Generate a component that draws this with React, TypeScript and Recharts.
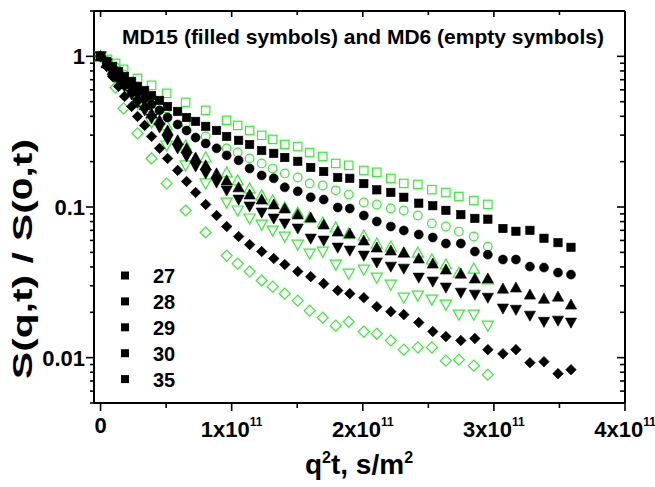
import React from 'react';
import { ScatterChart, Scatter, XAxis, YAxis, Legend, Customized } from 'recharts';

// x values are in units of 1e10 (q^2 t, s/m^2)
const X_UNIT = 1e10;

const md15X = [0, 0.46, 0.92, 1.37, 1.83, 2.37, 2.82, 3.36, 3.89, 4.5, 5.11, 5.88, 6.56, 7.25, 8.02, 8.85, 9.62, 10.53, 11.37, 12.29, 13.21, 14.05, 15.04, 16.03, 17.02, 18.09, 19.01, 20.08, 21.07, 22.14, 23.13, 24.27, 25.34, 26.34, 27.48, 28.55, 29.54, 30.69, 31.68, 32.75, 33.82, 34.89, 35.88];
const md6X = [0, 0.53, 1.15, 1.76, 2.82, 3.89, 5.04, 6.49, 8.02, 9.62, 10.46, 11.37, 12.29, 13.13, 14.05, 15.04, 15.95, 16.95, 17.94, 18.93, 20.08, 21.07, 22.14, 23.13, 24.2, 25.27, 26.34, 27.33, 28.47, 29.54];

// MD15 (filled symbols)
const md15Squares = [1, 0.926, 0.858, 0.795, 0.736, 0.682, 0.632, 0.594, 0.55, 0.51, 0.465, 0.431, 0.393, 0.37, 0.343, 0.322, 0.294, 0.277, 0.26, 0.237, 0.227, 0.213, 0.201, 0.183, 0.172, 0.157, 0.155, 0.143, 0.13, 0.125, 0.116, 0.106, 0.102, 0.095, 0.089, 0.084, 0.083, 0.072, 0.069, 0.07, 0.062, 0.058, 0.054];
const md15Circles = [1, 0.912, 0.832, 0.759, 0.693, 0.632, 0.576, 0.526, 0.48, 0.438, 0.393, 0.353, 0.322, 0.289, 0.264, 0.245, 0.22, 0.204, 0.18, 0.162, 0.155, 0.135, 0.127, 0.116, 0.112, 0.0992, 0.0977, 0.0878, 0.0801, 0.0742, 0.0698, 0.0657, 0.0627, 0.0572, 0.0572, 0.0506, 0.0483, 0.0448, 0.0448, 0.0402, 0.0396, 0.0367, 0.0356];
const md15TriUp = [1, 0.899, 0.807, 0.725, 0.652, 0.585, 0.526, 0.473, 0.418, 0.376, 0.322, 0.277, 0.245, 0.213, 0.189, 0.167, 0.15, 0.135, 0.121, 0.112, 0.104, 0.0977, 0.0892, 0.0851, 0.0765, 0.0687, 0.0666, 0.0599, 0.0538, 0.0514, 0.0498, 0.0455, 0.0421, 0.0384, 0.0361, 0.0335, 0.0335, 0.0287, 0.0292, 0.0262, 0.0246, 0.0254, 0.0225];
const md15TriDown = [1, 0.899, 0.795, 0.703, 0.632, 0.559, 0.495, 0.438, 0.387, 0.337, 0.281, 0.245, 0.2165, 0.1858, 0.167, 0.1455, 0.1287, 0.112, 0.1008, 0.0919, 0.0839, 0.0777, 0.072, 0.0617, 0.0599, 0.0538, 0.0514, 0.0476, 0.0428, 0.0402, 0.039, 0.034, 0.032, 0.0292, 0.027, 0.0262, 0.025, 0.0212, 0.0208, 0.019, 0.0173, 0.0176, 0.0171];
const md15Diamonds = [1, 0.858, 0.736, 0.632, 0.542, 0.465, 0.399, 0.348, 0.294, 0.245, 0.21, 0.175, 0.1477, 0.1248, 0.1039, 0.0878, 0.0742, 0.0637, 0.0563, 0.0506, 0.0455, 0.0415, 0.0373, 0.0345, 0.031, 0.0279, 0.0266, 0.025, 0.0218, 0.0202, 0.0193, 0.0171, 0.0149, 0.0138, 0.013, 0.0134, 0.0113, 0.0106, 0.0113, 0.00926, 0.0094, 0.00783, 0.00832];

// MD6 (empty symbols)
const md6Squares = [1, 0.955, 0.899, 0.82, 0.714, 0.642, 0.568, 0.495, 0.438, 0.376, 0.348, 0.322, 0.299, 0.281, 0.26, 0.252, 0.23, 0.2165, 0.1945, 0.189, 0.1748, 0.17, 0.1547, 0.1434, 0.1412, 0.1304, 0.1248, 0.1174, 0.1104, 0.104];
const md6Circles = [1, 0.926, 0.845, 0.759, 0.632, 0.542, 0.451, 0.359, 0.294, 0.245, 0.23, 0.21, 0.1945, 0.18, 0.167, 0.157, 0.1434, 0.1389, 0.129, 0.121, 0.1071, 0.1039, 0.0977, 0.0948, 0.0878, 0.0777, 0.0742, 0.0687, 0.0637, 0.0546];
const md6TriUp = [1, 0.912, 0.82, 0.725, 0.576, 0.458, 0.348, 0.256, 0.213, 0.1695, 0.15, 0.1327, 0.1192, 0.1104, 0.0992, 0.0919, 0.0851, 0.0788, 0.0731, 0.0666, 0.0646, 0.0572, 0.0546, 0.0498, 0.0498, 0.0448, 0.0415, 0.0367, 0.039, 0.033];
const md6TriDown = [1, 0.885, 0.771, 0.652, 0.487, 0.364, 0.256, 0.189, 0.1434, 0.1071, 0.0948, 0.0839, 0.0765, 0.0698, 0.0637, 0.0563, 0.0491, 0.0506, 0.0415, 0.0361, 0.0384, 0.034, 0.0305, 0.025, 0.0258, 0.0243, 0.0225, 0.0193, 0.0193, 0.0163];
const md6Diamonds = [1, 0.858, 0.622, 0.451, 0.308, 0.21, 0.1434, 0.0948, 0.0677, 0.0476, 0.0421, 0.0373, 0.0325, 0.0296, 0.0266, 0.0239, 0.0205, 0.0184, 0.0163, 0.0173, 0.0149, 0.0144, 0.013, 0.0113, 0.0117, 0.0117, 0.00955, 0.0097, 0.00885, 0.00771];

const xTicks = [0, 5e10, 1e11, 1.5e11, 2e11, 2.5e11, 3e11, 3.5e11, 4e11];
const xMajor = [0, 1e11, 2e11, 3e11, 4e11];
const yTicks = [0.005, 0.006, 0.007, 0.008, 0.009, 0.01, 0.02, 0.03, 0.04, 0.05, 0.06, 0.07, 0.08, 0.09, 0.1, 0.2, 0.3, 0.4, 0.5, 0.6, 0.7, 0.8, 0.9, 1, 2];
const yMajor = [0.01, 0.1, 1];
const yMajorLabels = ['0.01', '0.1', '1'];
const legendLabels = ['27', '28', '29', '30', '35'];
const titleText = 'MD15 (filled symbols) and MD6 (empty symbols)';

const FONT = '"Liberation Sans", Arial, Helvetica, sans-serif';
const BLACK = '#000000';
const GREEN = '#33ee33';

const toPoints = (xs: number[], ys: number[]) => ys.map((y, i) => ({ x: xs[i] * X_UNIT, y }));

type Kind = 'square' | 'circle' | 'up' | 'down' | 'diamond';

const makeShape = (kind: Kind, filled: boolean) => (props: any) => {
  const { cx, cy } = props;
  if (cx == null || cy == null || isNaN(cx) || isNaN(cy)) return <g />;
  const fill = filled ? BLACK : 'none';
  const stroke = filled ? BLACK : GREEN;
  const sw = filled ? 0.6 : 1.2;
  if (kind === 'square') {
    const h = 4.2;
    return <rect x={cx - h} y={cy - h} width={2 * h} height={2 * h} fill={fill} stroke={stroke} strokeWidth={sw} />;
  }
  if (kind === 'circle') {
    return <circle cx={cx} cy={cy} r={filled ? 4.5 : 4.3} fill={fill} stroke={stroke} strokeWidth={sw} />;
  }
  if (kind === 'up') {
    const r = 5.6;
    return <polygon points={`${cx},${cy - r} ${cx + r},${cy + r * 0.8} ${cx - r},${cy + r * 0.8}`} fill={fill} stroke={stroke} strokeWidth={sw} />;
  }
  if (kind === 'down') {
    const r = 5.6;
    return <polygon points={`${cx},${cy + r} ${cx + r},${cy - r * 0.8} ${cx - r},${cy - r * 0.8}`} fill={fill} stroke={stroke} strokeWidth={sw} />;
  }
  const r = filled ? 5.3 : 5.5;
  return <polygon points={`${cx},${cy - r} ${cx + r},${cy} ${cx},${cy + r} ${cx - r},${cy}`} fill={fill} stroke={stroke} strokeWidth={sw} />;
};

const series = [
  { name: 'MD6 squares', data: toPoints(md6X, md6Squares), kind: 'square' as Kind, filled: false },
  { name: 'MD6 circles', data: toPoints(md6X, md6Circles), kind: 'circle' as Kind, filled: false },
  { name: 'MD6 up', data: toPoints(md6X, md6TriUp), kind: 'up' as Kind, filled: false },
  { name: 'MD6 down', data: toPoints(md6X, md6TriDown), kind: 'down' as Kind, filled: false },
  { name: 'MD6 diamonds', data: toPoints(md6X, md6Diamonds), kind: 'diamond' as Kind, filled: false },
  { name: 'MD15 squares', data: toPoints(md15X, md15Squares), kind: 'square' as Kind, filled: true },
  { name: 'MD15 circles', data: toPoints(md15X, md15Circles), kind: 'circle' as Kind, filled: true },
  { name: 'MD15 up', data: toPoints(md15X, md15TriUp), kind: 'up' as Kind, filled: true },
  { name: 'MD15 down', data: toPoints(md15X, md15TriDown), kind: 'down' as Kind, filled: true },
  { name: 'MD15 diamonds', data: toPoints(md15X, md15Diamonds), kind: 'diamond' as Kind, filled: true },
];

const LeftTick = (props: any) => {
  const { x, y, payload } = props;
  const v = payload.value;
  const idx = yMajor.findIndex((m) => Math.abs(m - v) < 1e-9);
  const major = idx >= 0;
  return (
    <g>
      <line x1={x - (major ? 8 : 4)} x2={x} y1={y} y2={y} stroke={BLACK} strokeWidth={1.6} />
      {major && (
        <text x={x - 9} y={y} dy="0.36em" textAnchor="end" fontFamily={FONT} fontWeight="bold" fontSize={22} fill={BLACK}>
          {yMajorLabels[idx]}
        </text>
      )}
    </g>
  );
};

const RightTick = (props: any) => {
  const { x, y, payload } = props;
  const v = payload.value;
  const major = yMajor.some((m) => Math.abs(m - v) < 1e-9);
  return <line x1={x - (major ? 8 : 5)} x2={x} y1={y} y2={y} stroke={BLACK} strokeWidth={1.6} />;
};

const BottomTick = (props: any) => {
  const { x, y, payload } = props;
  const v = payload.value;
  const major = xMajor.includes(v);
  const mult = Math.round(v / 1e11);
  return (
    <g>
      <line x1={x} x2={x} y1={y} y2={y + (major ? 8 : 5)} stroke={BLACK} strokeWidth={1.6} />
      {major && v === 0 && (
        <text x={x} y={y + 30} textAnchor="middle" fontFamily={FONT} fontWeight="bold" fontSize={22} fill={BLACK}>0</text>
      )}
      {major && v !== 0 && (
        <text x={x} y={y + 34} textAnchor="middle" fontFamily={FONT} fontWeight="bold" fontSize={22} fill={BLACK}>
          {`${mult}x10`}
          <tspan dy={-11} fontSize={12}>11</tspan>
        </text>
      )}
    </g>
  );
};

const TopTick = (props: any) => {
  const { x, y, payload } = props;
  const major = xMajor.includes(payload.value);
  return <line x1={x} x2={x} y1={y} y2={y + (major ? 6 : 4)} stroke={BLACK} strokeWidth={1.6} />;
};

const Annotations = () => (
  <g fontFamily={FONT} fontWeight="bold" fill={BLACK}>
    <text x={363} y={44} textAnchor="middle" fontSize={21}>{titleText}</text>
    <text transform="translate(22,259) rotate(-90)" textAnchor="middle" dominantBaseline="central" fontSize={28}
      textLength={240} lengthAdjust="spacingAndGlyphs">S(q,t) / S(0,t)</text>
    <text x={359} y={474} textAnchor="middle" fontSize={28}>
      q<tspan dy={-11} fontSize={16}>2</tspan>
      <tspan dy={11}>t, s/m</tspan>
      <tspan dy={-11} fontSize={16}>2</tspan>
    </text>
  </g>
);

const LegendContent = () => (
  <svg width={90} height={135} style={{ display: 'block' }}>
    {legendLabels.map((lab, i) => (
      <g key={lab}>
        <rect x={21} y={16.5 + i * 25.9 - 4} width={8} height={8} fill={BLACK} />
        <text x={53} y={16.5 + i * 25.9 + 7.5} fontFamily={FONT} fontWeight="bold" fontSize={20} fill={BLACK}>{lab}</text>
      </g>
    ))}
  </svg>
);

export default function App() {
  return (
    <div style={{ width: 655, height: 487 }}>
      <style>{`body{margin:0;} .recharts-surface{overflow:visible;}`}</style>
      <ScatterChart width={655} height={487} margin={{ top: 0, right: 0, bottom: 0, left: 0 }}>
        <XAxis xAxisId="b" type="number" dataKey="x" orientation="bottom" height={84}
          domain={[-5e9, 4e11]} allowDataOverflow ticks={xTicks} interval={0}
          tickSize={0} tickMargin={0} tickLine={false} tick={<BottomTick />}
          axisLine={{ stroke: BLACK, strokeWidth: 2 }} />
        <XAxis xAxisId="t" type="number" dataKey="x" orientation="top" height={11}
          domain={[-5e9, 4e11]} allowDataOverflow ticks={xTicks} interval={0}
          tickSize={0} tickMargin={0} tickLine={false} tick={<TopTick />}
          axisLine={{ stroke: BLACK, strokeWidth: 2 }} />
        <YAxis yAxisId="l" type="number" dataKey="y" orientation="left" width={94} scale="log"
          domain={[0.005, 2]} allowDataOverflow ticks={yTicks} interval={0}
          tickSize={0} tickMargin={0} tickLine={false} tick={<LeftTick />}
          axisLine={{ stroke: BLACK, strokeWidth: 2 }} />
        <YAxis yAxisId="r" type="number" dataKey="y" orientation="right" width={30} scale="log"
          domain={[0.005, 2]} allowDataOverflow ticks={yTicks} interval={0}
          tickSize={0} tickMargin={0} tickLine={false} tick={<RightTick />}
          axisLine={{ stroke: BLACK, strokeWidth: 2 }} />
        {series.map((s) => (
          <Scatter key={s.name} name={s.name} data={s.data} xAxisId="b" yAxisId="l"
            shape={makeShape(s.kind, s.filled)} isAnimationActive={false} legendType="none" />
        ))}
        <Legend layout="vertical" align="center" verticalAlign="middle" content={<LegendContent />}
          wrapperStyle={{ position: 'absolute', left: 100, top: 259, width: 90, height: 135 }} />
        <Customized component={<Annotations />} />
      </ScatterChart>
    </div>
  );
}
